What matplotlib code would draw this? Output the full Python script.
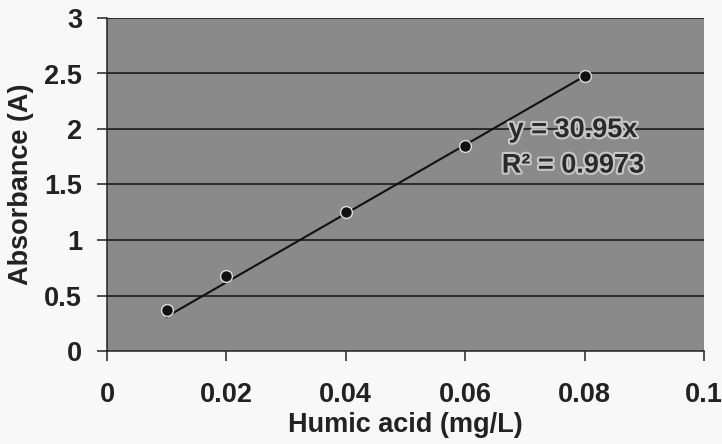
import matplotlib
matplotlib.use("Agg")
import matplotlib.pyplot as plt
import matplotlib.patheffects as pe
import numpy as np

plt.rcParams['font.family'] = ['Liberation Sans', 'DejaVu Sans']

# data
conc = [0.01, 0.02, 0.04, 0.06, 0.08]
absorb = [0.37, 0.68, 1.25, 1.85, 2.48]
slope = 30.95
eq_text = "y = 30.95x"
r2_text = "R\u00b2 = 0.9973"
xticks = [0, 0.02, 0.04, 0.06, 0.08, 0.1]
xticklabels = ["0", "0.02", "0.04", "0.06", "0.08", "0.1"]
yticks = [0, 0.5, 1, 1.5, 2, 2.5, 3]
yticklabels = ["0", "0.5", "1", "1.5", "2", "2.5", "3"]

fig = plt.figure(figsize=(7.22, 4.44), dpi=100, facecolor='#f8f8f8')
ax = fig.add_axes([107/722, 93/444, 597/722, 333/444])
ax.set_facecolor('#8a8a8a')

ax.set_xlim(0, 0.1)
ax.set_ylim(0, 3)

for y in yticks[1:]:
    ax.axhline(y, color='#111111', lw=1.1, zorder=1)

tx = np.array([conc[0], conc[-1]])
ax.plot(tx, slope * tx, color='#111111', lw=1.5, zorder=3)
ax.plot(conc, absorb, 'o', color='#111111', ms=8.5, mec='#dddddd', mew=1.0, zorder=4)

ax.set_xticks(xticks)
ax.set_xticklabels(xticklabels)
ax.set_yticks(yticks)
ax.set_yticklabels(yticklabels)
ax.tick_params(axis='both', direction='out', length=7, width=1.1, color='#222222',
               labelsize=19.5, labelcolor='#222222')
ax.tick_params(axis='x', pad=15)
ax.tick_params(axis='y', pad=11)
for lab in ax.get_xticklabels() + ax.get_yticklabels():
    lab.set_fontweight('bold')

for s in ['top', 'right']:
    ax.spines[s].set_visible(False)
for s in ['left', 'bottom']:
    ax.spines[s].set_color('#222222')
    ax.spines[s].set_linewidth(1.1)

ax.set_xlabel('Humic acid (mg/L)', fontsize=19.5, fontweight='bold', color='#222222', labelpad=3)
ax.set_ylabel('Absorbance (A)', fontsize=19.5, fontweight='bold', color='#222222', labelpad=7)

halo = [pe.withStroke(linewidth=3, foreground='#c8c8c8')]
ax.text(0.0781, 1.99, eq_text, fontsize=19.5, fontweight='bold', color='#2a2a2a',
        ha='center', va='center', path_effects=halo, zorder=5)
ax.text(0.0781, 1.67, r2_text, fontsize=19.5, fontweight='bold', color='#2a2a2a',
        ha='center', va='center', path_effects=halo, zorder=5)

fig.savefig('out.png', dpi=100, facecolor=fig.get_facecolor())
